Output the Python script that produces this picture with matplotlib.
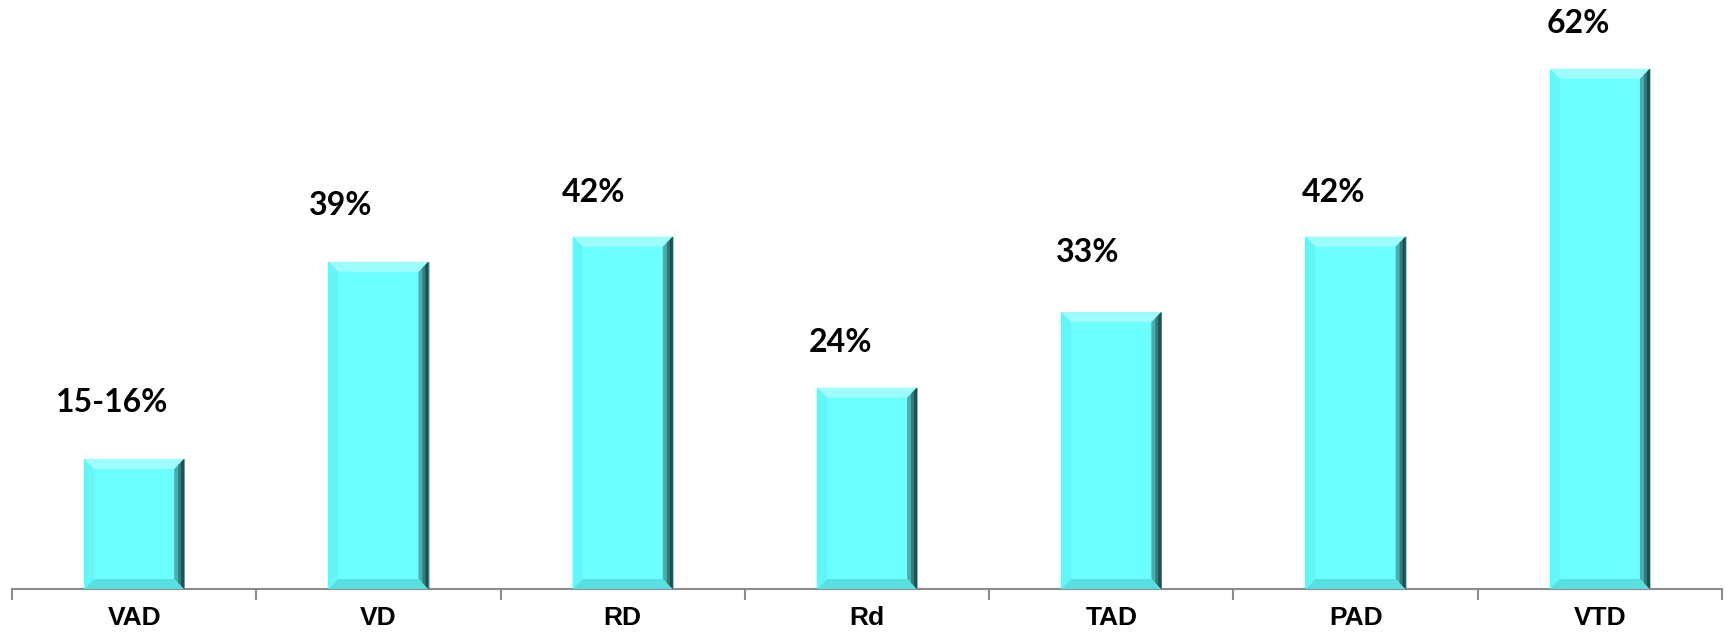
import numpy as np
import matplotlib.pyplot as plt
from matplotlib.patches import Polygon

categories = ["VAD", "VD", "RD", "Rd", "TAD", "PAD", "VTD"]
values = [15.5, 39, 42, 24, 33, 42, 62]
labels = ["15-16%", "39%", "42%", "24%", "33%", "42%", "62%"]

# label offsets from bar top centre, in pixels
label_dx = [-22, -38, -29, -27, -24, -22, -22]
label_dy = [56, 56, 44, 45, 60, 44, 45]

fill = "#6cffff"


def bevel(ax, bar, bx, by):
    x0, y0 = bar.get_x(), bar.get_y()
    x1, y1 = x0 + bar.get_width(), y0 + bar.get_height()
    faces = [
        ([(x0, y1), (x1, y1), (x1 - bx, y1 - by), (x0 + bx, y1 - by)], "#9ffcfc"),
        ([(x1, y1), (x1, y0), (x1 - bx, y0 + by), (x1 - bx, y1 - by)], "#46b0b0"),
        ([(x0, y0), (x1, y0), (x1 - bx, y0 + by), (x0 + bx, y0 + by)], "#58e0e0"),
        ([(x0, y0), (x0, y1), (x0 + bx, y1 - by), (x0 + bx, y0 + by)], "#64f6f6"),
    ]
    for pts, c in faces:
        ax.add_patch(Polygon(pts, closed=True, facecolor=c, edgecolor="none", zorder=3))
    # darker strips toward the right edge
    for k, c in [(0.6, "#2f7d7d"), (0.3, "#234e4e")]:
        ax.add_patch(Polygon([(x1, y1), (x1, y0), (x1 - bx * k, y0 + by * k),
                              (x1 - bx * k, y1 - by * k)], closed=True,
                             facecolor=c, edgecolor="none", zorder=3))


fig = plt.figure(figsize=(17.25, 6.34), dpi=100)
ax = fig.add_axes([12 / 1725, 1 - 589 / 634, 1710 / 1725, 589 / 634])

x = np.arange(len(categories))
bars = ax.bar(x, values, width=0.41, color=fill, edgecolor="#8ad8d8", linewidth=0.8, zorder=2)

ax.set_xlim(-0.5, len(categories) - 0.5)
ax.set_ylim(0, 70.2)

# bevel size ~10 px converted to data units
bx = 10 * len(categories) / 1710
by = 10 * 70.2 / 589
for b in bars:
    bevel(ax, b, bx, by)

for b, lab, dx, dy in zip(bars, labels, label_dx, label_dy):
    ax.annotate(lab, (b.get_x() + b.get_width() / 2, b.get_height()),
                xytext=(dx, dy), textcoords="offset pixels",
                ha="center", va="center", fontsize=23, fontweight="bold",
                family="Lato", color="black")

for s in ["top", "right", "left"]:
    ax.spines[s].set_visible(False)
ax.spines["bottom"].set_color("#8c8c8c")
ax.spines["bottom"].set_linewidth(1.5)
ax.set_yticks([])

ax.set_xticks(x)
ax.set_xticklabels(categories, fontsize=19, fontweight="bold", family="Liberation Sans")
ax.tick_params(axis="x", which="major", length=0, pad=12)
ax.set_xticks(np.arange(-0.5, len(categories)), minor=True)
ax.tick_params(axis="x", which="minor", length=8, width=1.5, color="#8c8c8c")

fig.savefig("out.png", dpi=100)
